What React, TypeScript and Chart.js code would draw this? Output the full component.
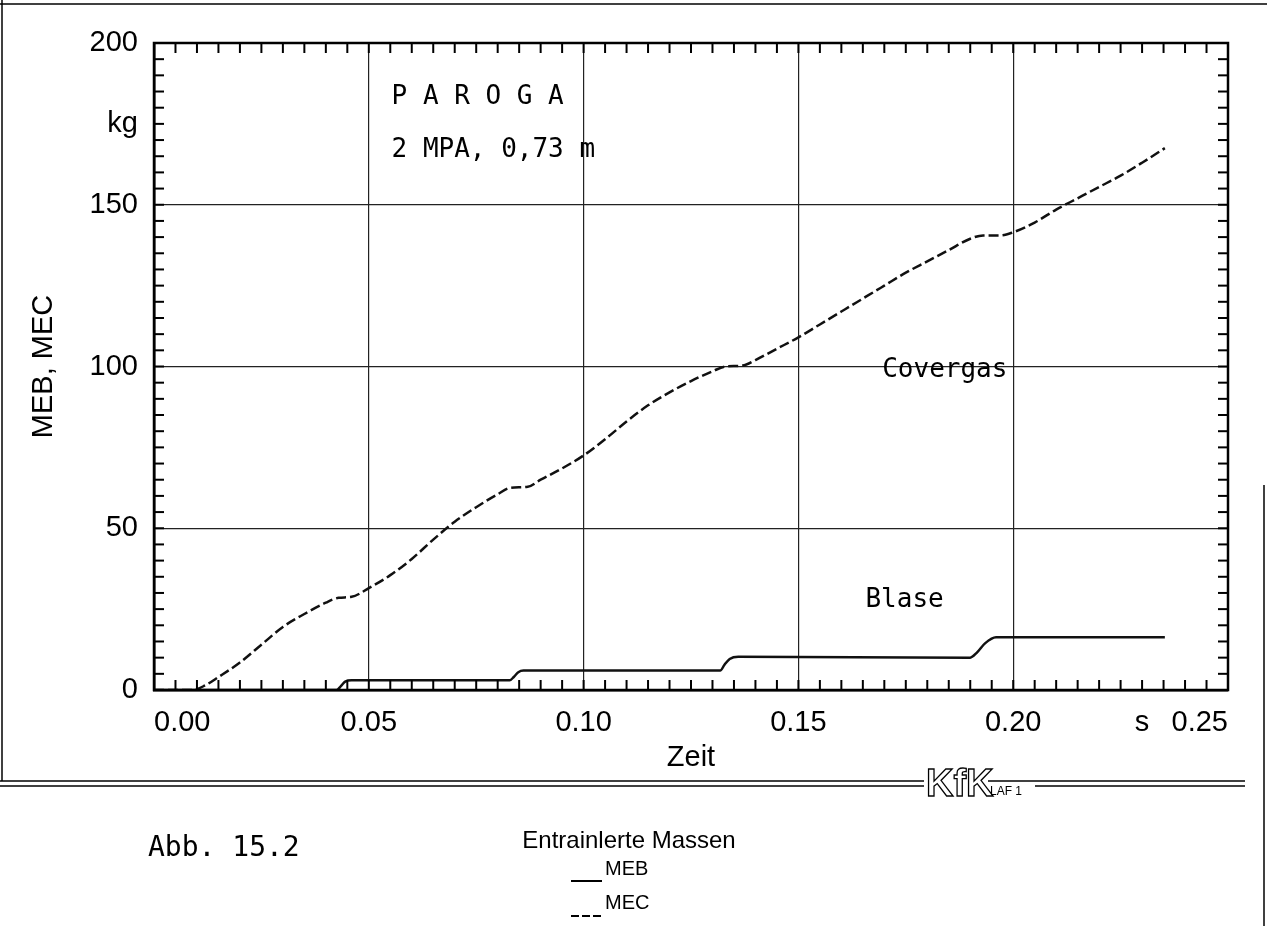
import React, { useEffect, useRef } from "react";
import { Chart, registerables } from "chart.js";

Chart.register(...registerables);

// ---- data ----
const X_TICK_LABELS = ["0.00", "0.05", "0.10", "0.15", "0.20", "0.25"];
const Y_TICK_LABELS = ["0", "50", "100", "150", "200"];
const X_UNIT_LABEL = "s";
const Y_UNIT_LABEL = "kg";

// MEB (Blase) – solid
const MEB_T = [0, 0.0425, 0.0435, 0.0445, 0.046, 0.0828, 0.0838, 0.0848, 0.086, 0.1318, 0.1328, 0.134, 0.136, 0.19, 0.1915, 0.1935, 0.196, 0.2353];
const MEB_V = [0, 0, 1.2, 2.6, 3, 3, 4.1, 5.5, 6, 6, 7.8, 9.6, 10.3, 10, 11.5, 14.5, 16.3, 16.3];

// MEC (Covergas) – dashed
const MEC_T = [0, 0.005, 0.009, 0.012, 0.015, 0.02, 0.025, 0.03, 0.035, 0.04, 0.043, 0.046, 0.05, 0.055, 0.06, 0.065, 0.07, 0.075, 0.08, 0.083, 0.087, 0.09, 0.095, 0.1, 0.105, 0.11, 0.115, 0.12, 0.125, 0.13, 0.133, 0.137, 0.14, 0.145, 0.15, 0.155, 0.16, 0.165, 0.17, 0.175, 0.18, 0.185, 0.19, 0.193, 0.197, 0.2, 0.205, 0.21, 0.215, 0.22, 0.225, 0.23, 0.2353];
const MEC_V = [0, 0, 0, 1.5, 4, 8.5, 14, 19.5, 23.5, 27, 28.5, 28.8, 31.5, 35.5, 40.5, 46.5, 52, 56.5, 60.5, 62.5, 62.8, 65, 68.5, 72.5, 77.5, 83, 88, 92, 95.5, 98.5, 100, 100.3, 102, 105.5, 109, 113, 117, 121, 125, 129, 132.5, 136, 139.5, 140.5, 140.5, 141.5, 144.5, 148.5, 152, 155.5, 159, 163, 167.5];

const X_MIN = 0, X_MAX = 0.25, X_MINOR = 0.005;
const Y_MIN = 0, Y_MAX = 200, Y_MINOR = 5;

const MONO = "'DejaVu Sans Mono', monospace";
const SANS = "'Liberation Sans', Arial, sans-serif";

const decorPlugin = {
  id: "decor",
  afterDraw(chart: any) {
    const { ctx, chartArea: ca, scales } = chart;
    const x = scales.x, y = scales.y;
    const W = chart.width;
    ctx.save();
    const line = (x1: number, y1: number, x2: number, y2: number) => {
      ctx.beginPath(); ctx.moveTo(x1, y1); ctx.lineTo(x2, y2); ctx.stroke();
    };
    ctx.strokeStyle = "#000";
    ctx.lineWidth = 2.5;
    ctx.strokeRect(ca.left, ca.top, ca.right - ca.left, ca.bottom - ca.top);

    // inward tick marks on all four sides
    ctx.lineWidth = 2;
    x.ticks.forEach((t: any) => {
      const px = x.getPixelForValue(t.value);
      line(px, ca.bottom, px, ca.bottom - 10);
      line(px, ca.top, px, ca.top + 10);
    });
    y.ticks.forEach((t: any) => {
      const py = y.getPixelForValue(t.value);
      line(ca.left, py, ca.left + 10, py);
      line(ca.right, py, ca.right - 10, py);
    });

    // annotations in plot
    ctx.fillStyle = "#000";
    ctx.textBaseline = "middle";
    ctx.textAlign = "left";
    ctx.font = `26px ${MONO}`;
    ctx.fillText("P A R O G A", x.getPixelForValue(0.0553), y.getPixelForValue(183.3));
    ctx.fillText("2 MPA, 0,73 m", x.getPixelForValue(0.0553), y.getPixelForValue(166.8));
    ctx.fillText("Covergas", x.getPixelForValue(0.1695), y.getPixelForValue(98.9));
    ctx.fillText("Blase", x.getPixelForValue(0.1656), y.getPixelForValue(27.8));

    // page frame
    ctx.lineWidth = 1.5;
    line(0, 4, W, 4);
    line(2, 0, 2, 781);
    line(1264, 485, 1264, 926);
    line(0, 781, 1245, 781);
    line(0, 786, 925, 786);
    line(1035, 786, 1245, 786);

    // KfK logo (approximation)
    ctx.fillStyle = "#fff";
    ctx.fillRect(924, 764, 64, 34);
    ctx.font = `bold 38px 'Liberation Sans Narrow', ${SANS}`;
    ctx.lineWidth = 1.3;
    ctx.textBaseline = "alphabetic";
    ctx.strokeText("KfK", 926, 796);
    ctx.fillStyle = "#000";
    ctx.font = `12px ${SANS}`;
    ctx.fillText("LAF 1", 990, 795);
    ctx.textBaseline = "middle";

    // bottom texts
    ctx.font = `28px ${MONO}`;
    ctx.fillText("Abb. 15.2", 148, 849);
    ctx.font = `24px ${SANS}`;
    ctx.textAlign = "center";
    ctx.fillText("Entrainlerte Massen", 629, 841);
    ctx.textAlign = "left";
    ctx.font = `20px ${SANS}`;
    ctx.fillText("MEB", 605, 869);
    ctx.fillText("MEC", 605, 903);
    ctx.lineWidth = 2;
    line(571, 881, 602, 881);
    ctx.setLineDash([8, 3]);
    line(571, 916, 602, 916);
    ctx.setLineDash([]);
    ctx.restore();
  },
};

export default function App() {
  const ref = useRef<HTMLCanvasElement>(null);
  useEffect(() => {
    document.body.style.margin = "0";
    document.body.style.overflow = "hidden";
    const meb = MEB_T.map((t, i) => ({ x: t, y: MEB_V[i] }));
    const mec = MEC_T.map((t, i) => ({ x: t, y: MEC_V[i] }));
    const chart = new Chart(ref.current!, {
      type: "line",
      data: {
        datasets: [
          { label: "MEB", data: meb, borderColor: "#111", borderWidth: 2.5, pointRadius: 0, cubicInterpolationMode: "monotone", fill: false },
          { label: "MEC", data: mec, borderColor: "#111", borderWidth: 2.5, borderDash: [10, 4], pointRadius: 0, cubicInterpolationMode: "monotone", fill: false },
        ],
      },
      options: {
        animation: false,
        responsive: false,
        devicePixelRatio: 1,
        layout: { padding: { left: 0, top: 43, right: 39, bottom: 0 } },
        plugins: { legend: { display: false }, tooltip: { enabled: false } },
        scales: {
          x: {
            type: "linear",
            min: X_MIN,
            max: X_MAX,
            afterBuildTicks: (s: any) => {
              const n = Math.round((X_MAX - X_MIN) / X_MINOR);
              s.ticks = Array.from({ length: n + 1 }, (_, i) => ({ value: X_MIN + i * X_MINOR }));
            },
            afterFit: (s: any) => { s.height = 236; },
            ticks: {
              autoSkip: false,
              maxRotation: 0,
              minRotation: 0,
              align: "inner",
              padding: 16,
              color: "#000",
              font: { family: "Liberation Sans", size: 29 },
              callback: (_v: any, i: number) => (i % 10 === 0 ? X_TICK_LABELS[i / 10] : i === 46 ? X_UNIT_LABEL : ""),
            },
            grid: {
              drawTicks: false,
              color: (c: any) => (c.index % 10 === 0 ? "#222" : "rgba(0,0,0,0)"),
              lineWidth: 1.2,
            },
            border: { display: true, color: "#000", width: 2.5 },
            title: { display: true, text: "Zeit", color: "#000", font: { family: "Liberation Sans", size: 29 }, padding: { top: 0, bottom: 151 } },
          },
          y: {
            type: "linear",
            min: Y_MIN,
            max: Y_MAX,
            afterBuildTicks: (s: any) => {
              const n = Math.round((Y_MAX - Y_MIN) / Y_MINOR);
              s.ticks = Array.from({ length: n + 1 }, (_, i) => ({ value: Y_MIN + i * Y_MINOR }));
            },
            afterFit: (s: any) => { s.width = 154; },
            ticks: {
              autoSkip: false,
              padding: 16,
              color: "#000",
              font: { family: "Liberation Sans", size: 29 },
              callback: (_v: any, i: number) => (i % 10 === 0 ? Y_TICK_LABELS[i / 10] : i === 35 ? Y_UNIT_LABEL : ""),
            },
            grid: {
              drawTicks: false,
              color: (c: any) => (c.index % 10 === 0 ? "#222" : "rgba(0,0,0,0)"),
              lineWidth: 1.2,
            },
            border: { display: true, color: "#000", width: 2.5 },
            title: { display: true, text: "MEB, MEC", color: "#000", font: { family: "Liberation Sans", size: 29 }, padding: { top: 27, bottom: 0 } },
          },
        },
      } as any,
      plugins: [decorPlugin],
    });
    return () => chart.destroy();
  }, []);
  return <canvas ref={ref} width={1267} height={926} style={{ display: "block" }} />;
}
